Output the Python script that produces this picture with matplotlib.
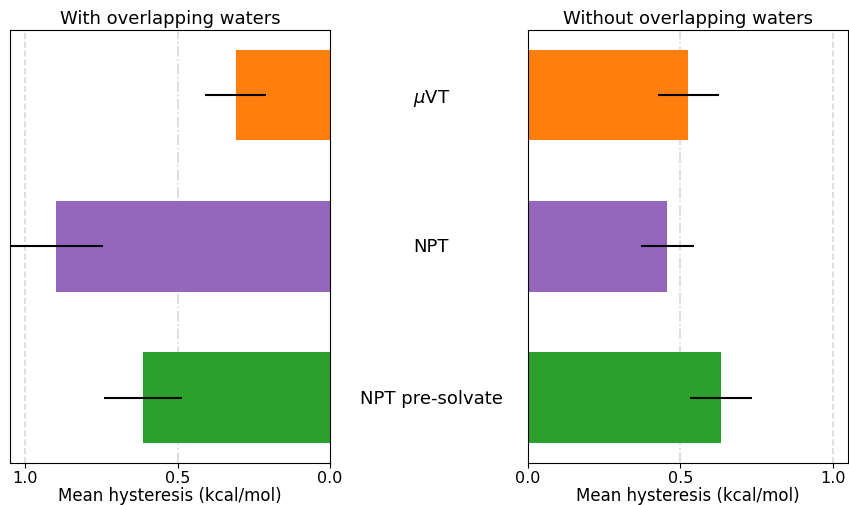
import numpy as np
import matplotlib
matplotlib.use('Agg')
import matplotlib.pyplot as plt
from matplotlib.transforms import blended_transform_factory

# 순서: 아래(0) -> 위(2)
labels = ['NPT pre-solvate', 'NPT', r'$\mu$VT']
colors = ['tab:green', 'tab:purple', 'tab:orange']
with_vals = [0.614, 0.90, 0.31]
with_err = [0.128, 0.155, 0.10]
without_vals = [0.633, 0.456, 0.525]
without_err = [0.103, 0.087, 0.10]

fig = plt.figure(figsize=(8.49, 5.06), dpi=100)
ax1 = fig.add_axes([0.0118, 0.083, 0.377, 0.856])
ax2 = fig.add_axes([0.622, 0.083, 0.377, 0.856])

y = np.arange(len(labels))
for ax, vals, err, title in [(ax1, with_vals, with_err, 'With overlapping waters'),
                             (ax2, without_vals, without_err, 'Without overlapping waters')]:
    ax.barh(y, vals, height=0.6, color=colors, zorder=2)
    ax.errorbar(vals, y, xerr=err, fmt='none', ecolor='black', elinewidth=1.5, zorder=3)
    ax.axvline(1.0, color='#d9d9d9', ls='--', lw=1.2, zorder=1)
    ax.axvline(0.5, color='#d9d9d9', ls='-.', lw=1.2, zorder=1)
    ax.set_xlim(0, 1.05)
    ax.set_xticks([0.0, 0.5, 1.0])
    ax.set_yticks([])
    ax.set_title(title, fontsize=13, pad=5)
    ax.set_xlabel('Mean hysteresis (kcal/mol)', fontsize=12, labelpad=1)
    ax.tick_params(labelsize=11.5, pad=1.5)
ax1.invert_xaxis()

tr = blended_transform_factory(fig.transFigure, ax1.transData)
for yi, lab in zip(y, labels):
    va = 'center_baseline' if '$' in lab else 'center'
    fig.text(0.508, yi, lab, transform=tr, ha='center', va=va, fontsize=13)

fig.savefig('out.png', dpi=100)
